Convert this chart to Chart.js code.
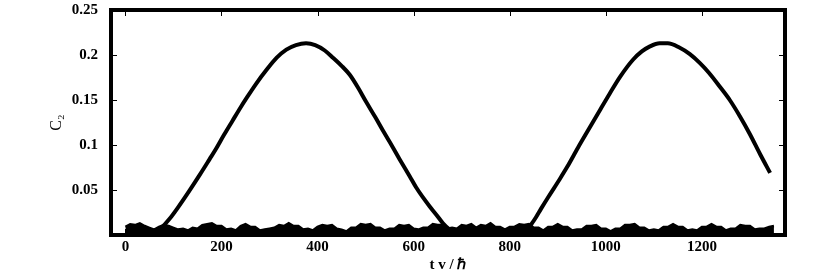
<!DOCTYPE html>
<html>
<head>
<meta charset="utf-8">
<script src="https://cdn.jsdelivr.net/npm/chart.js@4"></script>
<style>
  body { margin: 0; background: #fff; }
  #wrap { width: 834px; height: 279px; }
</style>
</head>
<body>
<div id="wrap"><canvas id="c2Chart" width="834" height="279"></canvas></div>
<script>
// --- data
var curveT = [60, 75, 92, 110, 133, 155, 175, 189, 205, 223, 240, 252, 272, 293, 315, 335, 355, 376,
    395, 415, 432, 450, 467, 485, 501, 520, 536, 555, 571, 592, 605, 619, 633, 648, 661, 675, 690,
    720, 760, 800, 820, 835, 845, 855, 865, 880, 904, 920, 942, 965, 988, 1008, 1030, 1057, 1075,
    1090, 1112, 1129, 1154, 1175, 1196, 1215, 1237, 1258, 1279, 1300, 1321, 1342];
var curveC = [0.002, 0.008, 0.018, 0.031, 0.049, 0.067, 0.084, 0.096, 0.111, 0.127, 0.142, 0.152, 0.168, 0.183, 0.197, 0.206, 0.211, 0.213,
    0.211, 0.205, 0.197, 0.188, 0.178, 0.163, 0.148, 0.131, 0.116, 0.099, 0.084, 0.065, 0.053, 0.042, 0.032, 0.022, 0.013, 0.006, 0.002,
    0.001, 0.001, 0.001, 0.002, 0.006, 0.012, 0.020, 0.029, 0.042, 0.062, 0.076, 0.097, 0.118, 0.139, 0.157, 0.176, 0.195, 0.204,
    0.209, 0.213, 0.213, 0.208, 0.201, 0.191, 0.180, 0.165, 0.150, 0.132, 0.112, 0.090, 0.069];

var noiseT = [0, 10, 20, 30, 40, 50, 60, 70, 80, 90,
    100, 110, 120, 130, 140, 150, 160, 170, 180, 190,
    200, 210, 220, 230, 240, 250, 260, 270, 280, 290,
    300, 310, 320, 330, 340, 350, 360, 370, 380, 390,
    400, 410, 420, 430, 440, 450, 460, 470, 480, 490,
    500, 510, 520, 530, 540, 550, 560, 570, 580, 590,
    600, 610, 620, 630, 640, 650, 660, 670, 680, 690,
    700, 710, 720, 730, 740, 750, 760, 770, 780, 790,
    800, 810, 820, 830, 840, 850, 860, 870, 880, 890,
    900, 910, 920, 930, 940, 950, 960, 970, 980, 990,
    1000, 1010, 1020, 1030, 1040, 1050, 1060, 1070, 1080, 1090,
    1100, 1110, 1120, 1130, 1140, 1150, 1160, 1170, 1180, 1190,
    1200, 1210, 1220, 1230, 1240, 1250, 1260, 1270, 1280, 1290,
    1300, 1310, 1320, 1330, 1340, 1350];
var noiseC = [0.009, 0.012, 0.011, 0.013, 0.010, 0.008, 0.006, 0.009, 0.011, 0.010,
    0.008, 0.006, 0.007, 0.005, 0.008, 0.007, 0.011, 0.012, 0.013, 0.010,
    0.010, 0.006, 0.007, 0.005, 0.010, 0.012, 0.009, 0.009, 0.005, 0.006,
    0.007, 0.008, 0.011, 0.010, 0.013, 0.010, 0.010, 0.006, 0.007, 0.005,
    0.009, 0.011, 0.010, 0.011, 0.007, 0.006, 0.004, 0.008, 0.008, 0.012,
    0.011, 0.012, 0.008, 0.008, 0.005, 0.007, 0.007, 0.011, 0.010, 0.011,
    0.007, 0.006, 0.008, 0.008, 0.012, 0.011, 0.011, 0.007, 0.008, 0.007,
    0.011, 0.010, 0.012, 0.008, 0.011, 0.010, 0.013, 0.009, 0.009, 0.006,
    0.009, 0.009, 0.012, 0.011, 0.012, 0.008, 0.008, 0.005, 0.009, 0.009,
    0.012, 0.009, 0.009, 0.005, 0.006, 0.006, 0.010, 0.010, 0.011, 0.007,
    0.007, 0.004, 0.007, 0.007, 0.011, 0.011, 0.012, 0.008, 0.008, 0.005,
    0.006, 0.005, 0.009, 0.009, 0.012, 0.009, 0.009, 0.005, 0.006, 0.005,
    0.009, 0.009, 0.012, 0.009, 0.009, 0.005, 0.007, 0.007, 0.011, 0.010,
    0.010, 0.006, 0.007, 0.007, 0.009, 0.010];

var xTicks = [0, 200, 400, 600, 800, 1000, 1200];
var yTicks = [0.05, 0.1, 0.15, 0.2, 0.25];

function toPoints(xs, ys) {
    return xs.map(function (x, i) { return { x: x, y: ys[i] }; });
}

var serif = 'Liberation Serif';

// frame + inward tick marks, like the gnuplot-ish original
var framePlugin = {
    id: 'frame',
    afterDraw: function (chart) {
        var ctx = chart.ctx;
        var a = chart.chartArea;
        var xs = chart.scales.x, ys = chart.scales.y;
        ctx.save();
        ctx.strokeStyle = '#000';
        ctx.lineWidth = 1;
        ctx.beginPath();
        xTicks.forEach(function (v) {
            var px = Math.round(xs.getPixelForValue(v)) + 0.5;
            ctx.moveTo(px, a.top); ctx.lineTo(px, a.top + 6);
            ctx.moveTo(px, a.bottom); ctx.lineTo(px, a.bottom - 6);
        });
        yTicks.forEach(function (v) {
            var py = Math.round(ys.getPixelForValue(v)) + 0.5;
            ctx.moveTo(a.left, py); ctx.lineTo(a.left + 6, py);
            ctx.moveTo(a.right, py); ctx.lineTo(a.right - 6, py);
        });
        ctx.stroke();
        ctx.lineWidth = 4;
        ctx.strokeRect(a.left, a.top, a.right - a.left, a.bottom - a.top);
        ctx.restore();
    }
};

new Chart(document.getElementById('c2Chart'), {
    type: 'line',
    data: {
        datasets: [{
            label: 'noise',
            data: toPoints(noiseT, noiseC),
            borderColor: '#000',
            backgroundColor: '#000',
            borderWidth: 2.5,
            pointRadius: 0,
            fill: 'origin',
            tension: 0
        }, {
            label: 'C2',
            data: toPoints(curveT, curveC),
            borderColor: '#000',
            borderWidth: 4,
            pointRadius: 0,
            fill: false,
            cubicInterpolationMode: 'monotone'
        }]
    },
    options: {
        responsive: false,
        animation: false,
        layout: { padding: { top: 10, right: 49, left: 0, bottom: 0 } },
        plugins: { legend: { display: false }, tooltip: { enabled: false } },
        scales: {
            x: {
                type: 'linear',
                min: -30,
                max: 1373,
                afterFit: function (s) { s.height = 44; s.paddingLeft = 0; s.paddingRight = 0; },
                afterBuildTicks: function (s) { s.ticks = xTicks.map(function (v) { return { value: v }; }); },
                grid: { display: false, drawTicks: false },
                border: { display: false },
                ticks: { padding: 3, color: '#000', maxRotation: 0, font: { family: serif, size: 15, weight: 'bold' },
                    callback: function (v) { return String(v); } },
                title: { display: true, text: 't v / ℏ', color: '#000', padding: { top: 0, bottom: 5 },
                    font: { family: serif, size: 15, weight: 'bold' } }
            },
            y: {
                min: 0,
                max: 0.25,
                afterFit: function (s) { s.width = 111; s.paddingTop = 0; s.paddingBottom = 0; },
                afterBuildTicks: function (s) { s.ticks = yTicks.map(function (v) { return { value: v }; }); },
                grid: { display: false, drawTicks: false },
                border: { display: false },
                ticks: { padding: 13, color: '#000', font: { family: serif, size: 15, weight: 'bold' },
                    callback: function (v) { return String(+v.toFixed(2)); } },
                title: { display: true, text: 'C₂', color: '#000', padding: { top: 47, bottom: 0 },
                    font: { family: serif, size: 16 } }
            }
        }
    },
    plugins: [framePlugin]
});
</script>
</body>
</html>
